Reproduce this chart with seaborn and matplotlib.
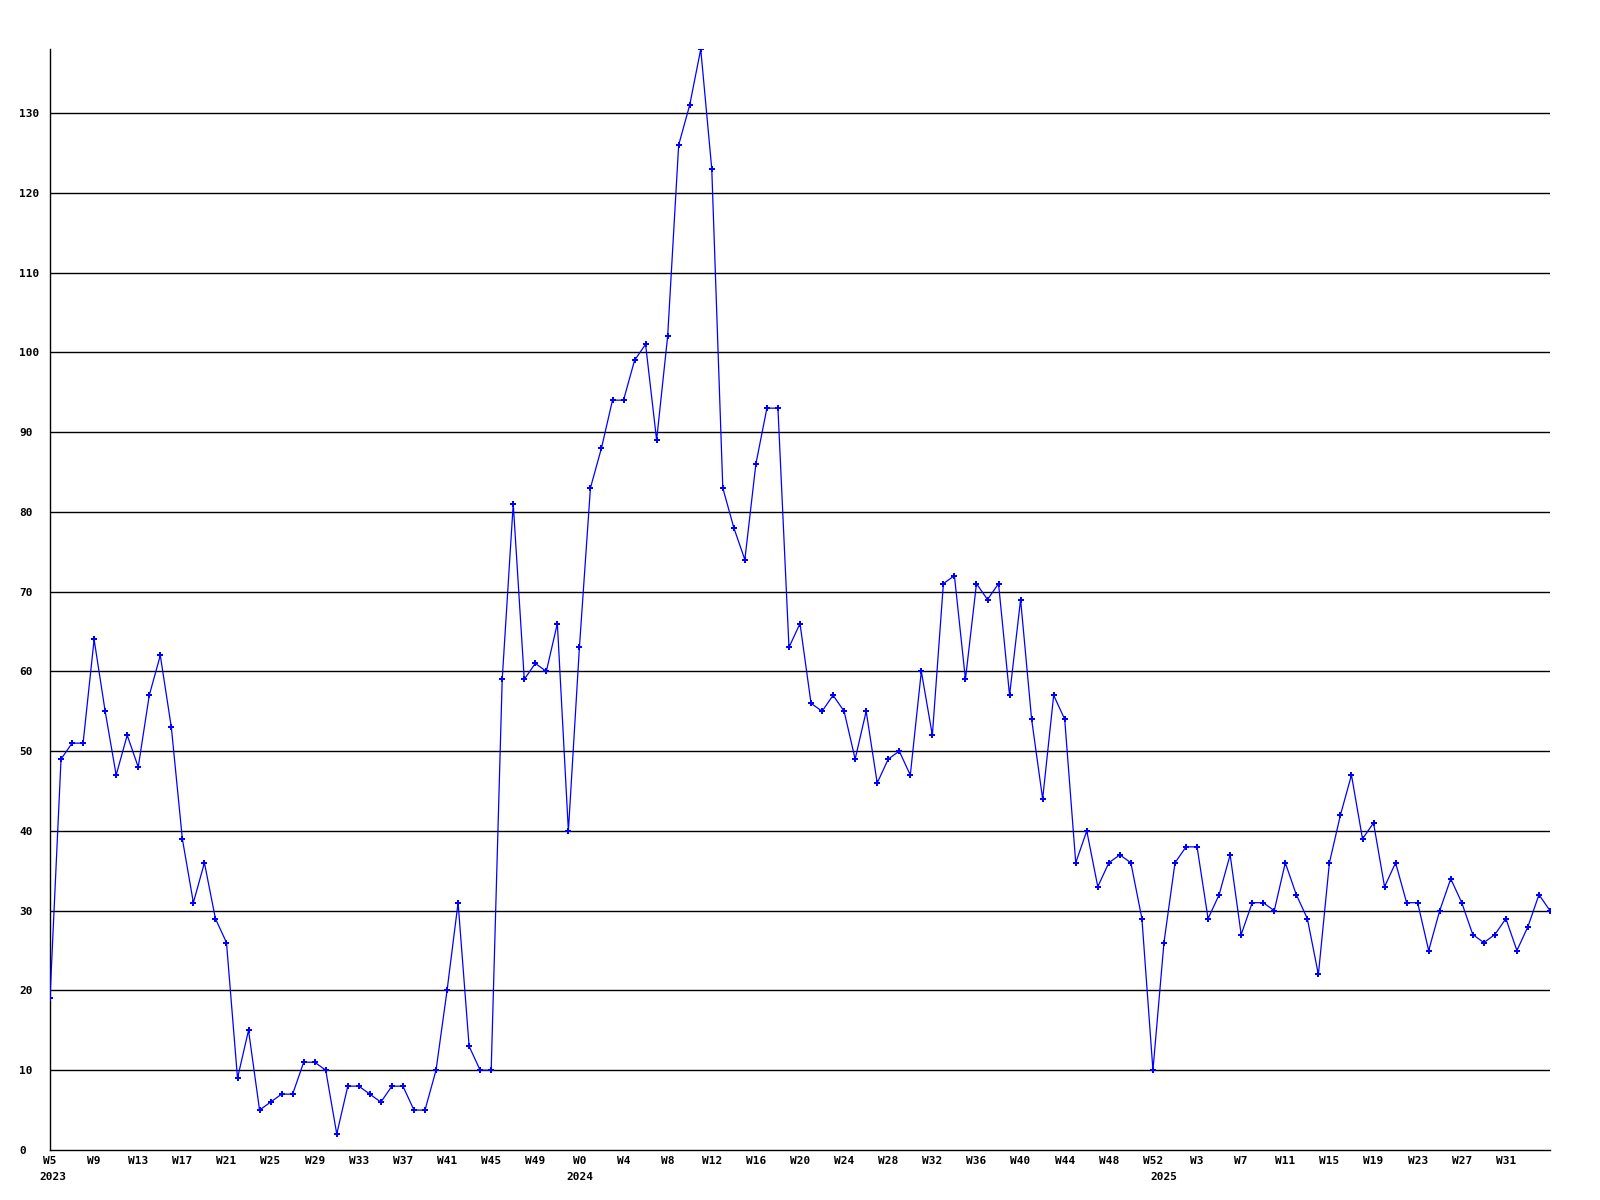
import matplotlib
matplotlib.use('Agg')
import matplotlib.pyplot as plt
import seaborn as sns
import pandas as pd

# weekly values, 2023 W5 .. 2025 W35
values = [19, 49, 51, 51, 64, 55, 47, 52, 48, 57, 62, 53, 39, 31, 36, 29, 26, 9, 15, 5,
          6, 7, 7, 11, 11, 10, 2, 8, 8, 7, 6, 8, 8, 5, 5,
          10, 20, 31, 13, 10, 10,
          59, 81, 59, 61, 60, 66, 40, 63, 83, 88,
          94, 94, 99, 101, 89, 102, 126, 131, 138, 123,
          83, 78, 74, 86, 93, 93, 63, 66, 56, 55,
          57, 55, 49, 55, 46, 49, 50, 47, 60, 52,
          71, 72, 59, 71, 69, 71, 57, 69, 54, 44,
          57, 54, 36, 40, 33, 36, 37, 36, 29, 10,
          26, 36, 38, 38, 29, 32, 37, 27, 31, 31,
          30, 36, 32, 29, 22, 36, 42, 47, 39, 41,
          33, 36, 31, 31, 25, 30, 34, 31, 27, 26,
          27, 29, 25, 28, 32, 30]

week_labels = ['W5', 'W9', 'W13', 'W17', 'W21', 'W25', 'W29', 'W33', 'W37', 'W41', 'W45', 'W49',
               'W0', 'W4', 'W8', 'W12', 'W16', 'W20', 'W24', 'W28', 'W32', 'W36', 'W40', 'W44',
               'W48', 'W52', 'W3', 'W7', 'W11', 'W15', 'W19', 'W23', 'W27', 'W31']
years = ['2023', '2024', '2025']
year_pos = [0, 48, 101]

df = pd.DataFrame({'week': range(len(values)), 'count': values})

sns.set_style('white')
plt.rcParams['font.family'] = ['DejaVu Sans Mono']
plt.rcParams['text.color'] = 'black'

fig = plt.figure(figsize=(16, 12), dpi=100)
ax = fig.add_axes([0.03125, 0.0417, 0.9375, 0.9173])

# horizontal grid lines
for v in range(10, 140, 10):
    ax.axhline(v, color='black', lw=1.0, zorder=1)

sns.lineplot(data=df, x='week', y='count', ax=ax, color='#0000ff', lw=0.9,
             marker='P', markersize=4.5, markeredgewidth=0, zorder=3)

ax.set_xlim(0, len(values) - 1)
ax.set_ylim(0, 138)
ax.set_xlabel('')
ax.set_ylabel('')

ax.set_yticks(range(0, 140, 10))
ax.set_yticklabels([str(v) for v in range(0, 140, 10)], fontsize=8, fontweight='bold')
for lbl in ax.get_yticklabels():
    lbl.set_ha('left')
ax.tick_params(axis='y', length=0, pad=22, labelcolor='black')

ax.set_xticks(range(0, 4 * len(week_labels), 4))
ax.set_xticklabels(week_labels, fontsize=8, fontweight='bold')
ax.tick_params(axis='x', length=0, pad=4, labelcolor='black')

# year labels under the first week of each year
for yr, pos in zip(years, year_pos):
    ax.annotate(yr, xy=(pos, 0), xycoords=('data', 'axes fraction'),
                xytext=(2 if pos == 0 else 0, -19.5), textcoords='offset points',
                ha='center', va='center', fontsize=8, fontweight='bold', color='black')

sns.despine(ax=ax, top=True, right=True)
for s in ['left', 'bottom']:
    ax.spines[s].set_color('black')
    ax.spines[s].set_linewidth(1.0)

fig.savefig('out.png', dpi=100, facecolor='white')
